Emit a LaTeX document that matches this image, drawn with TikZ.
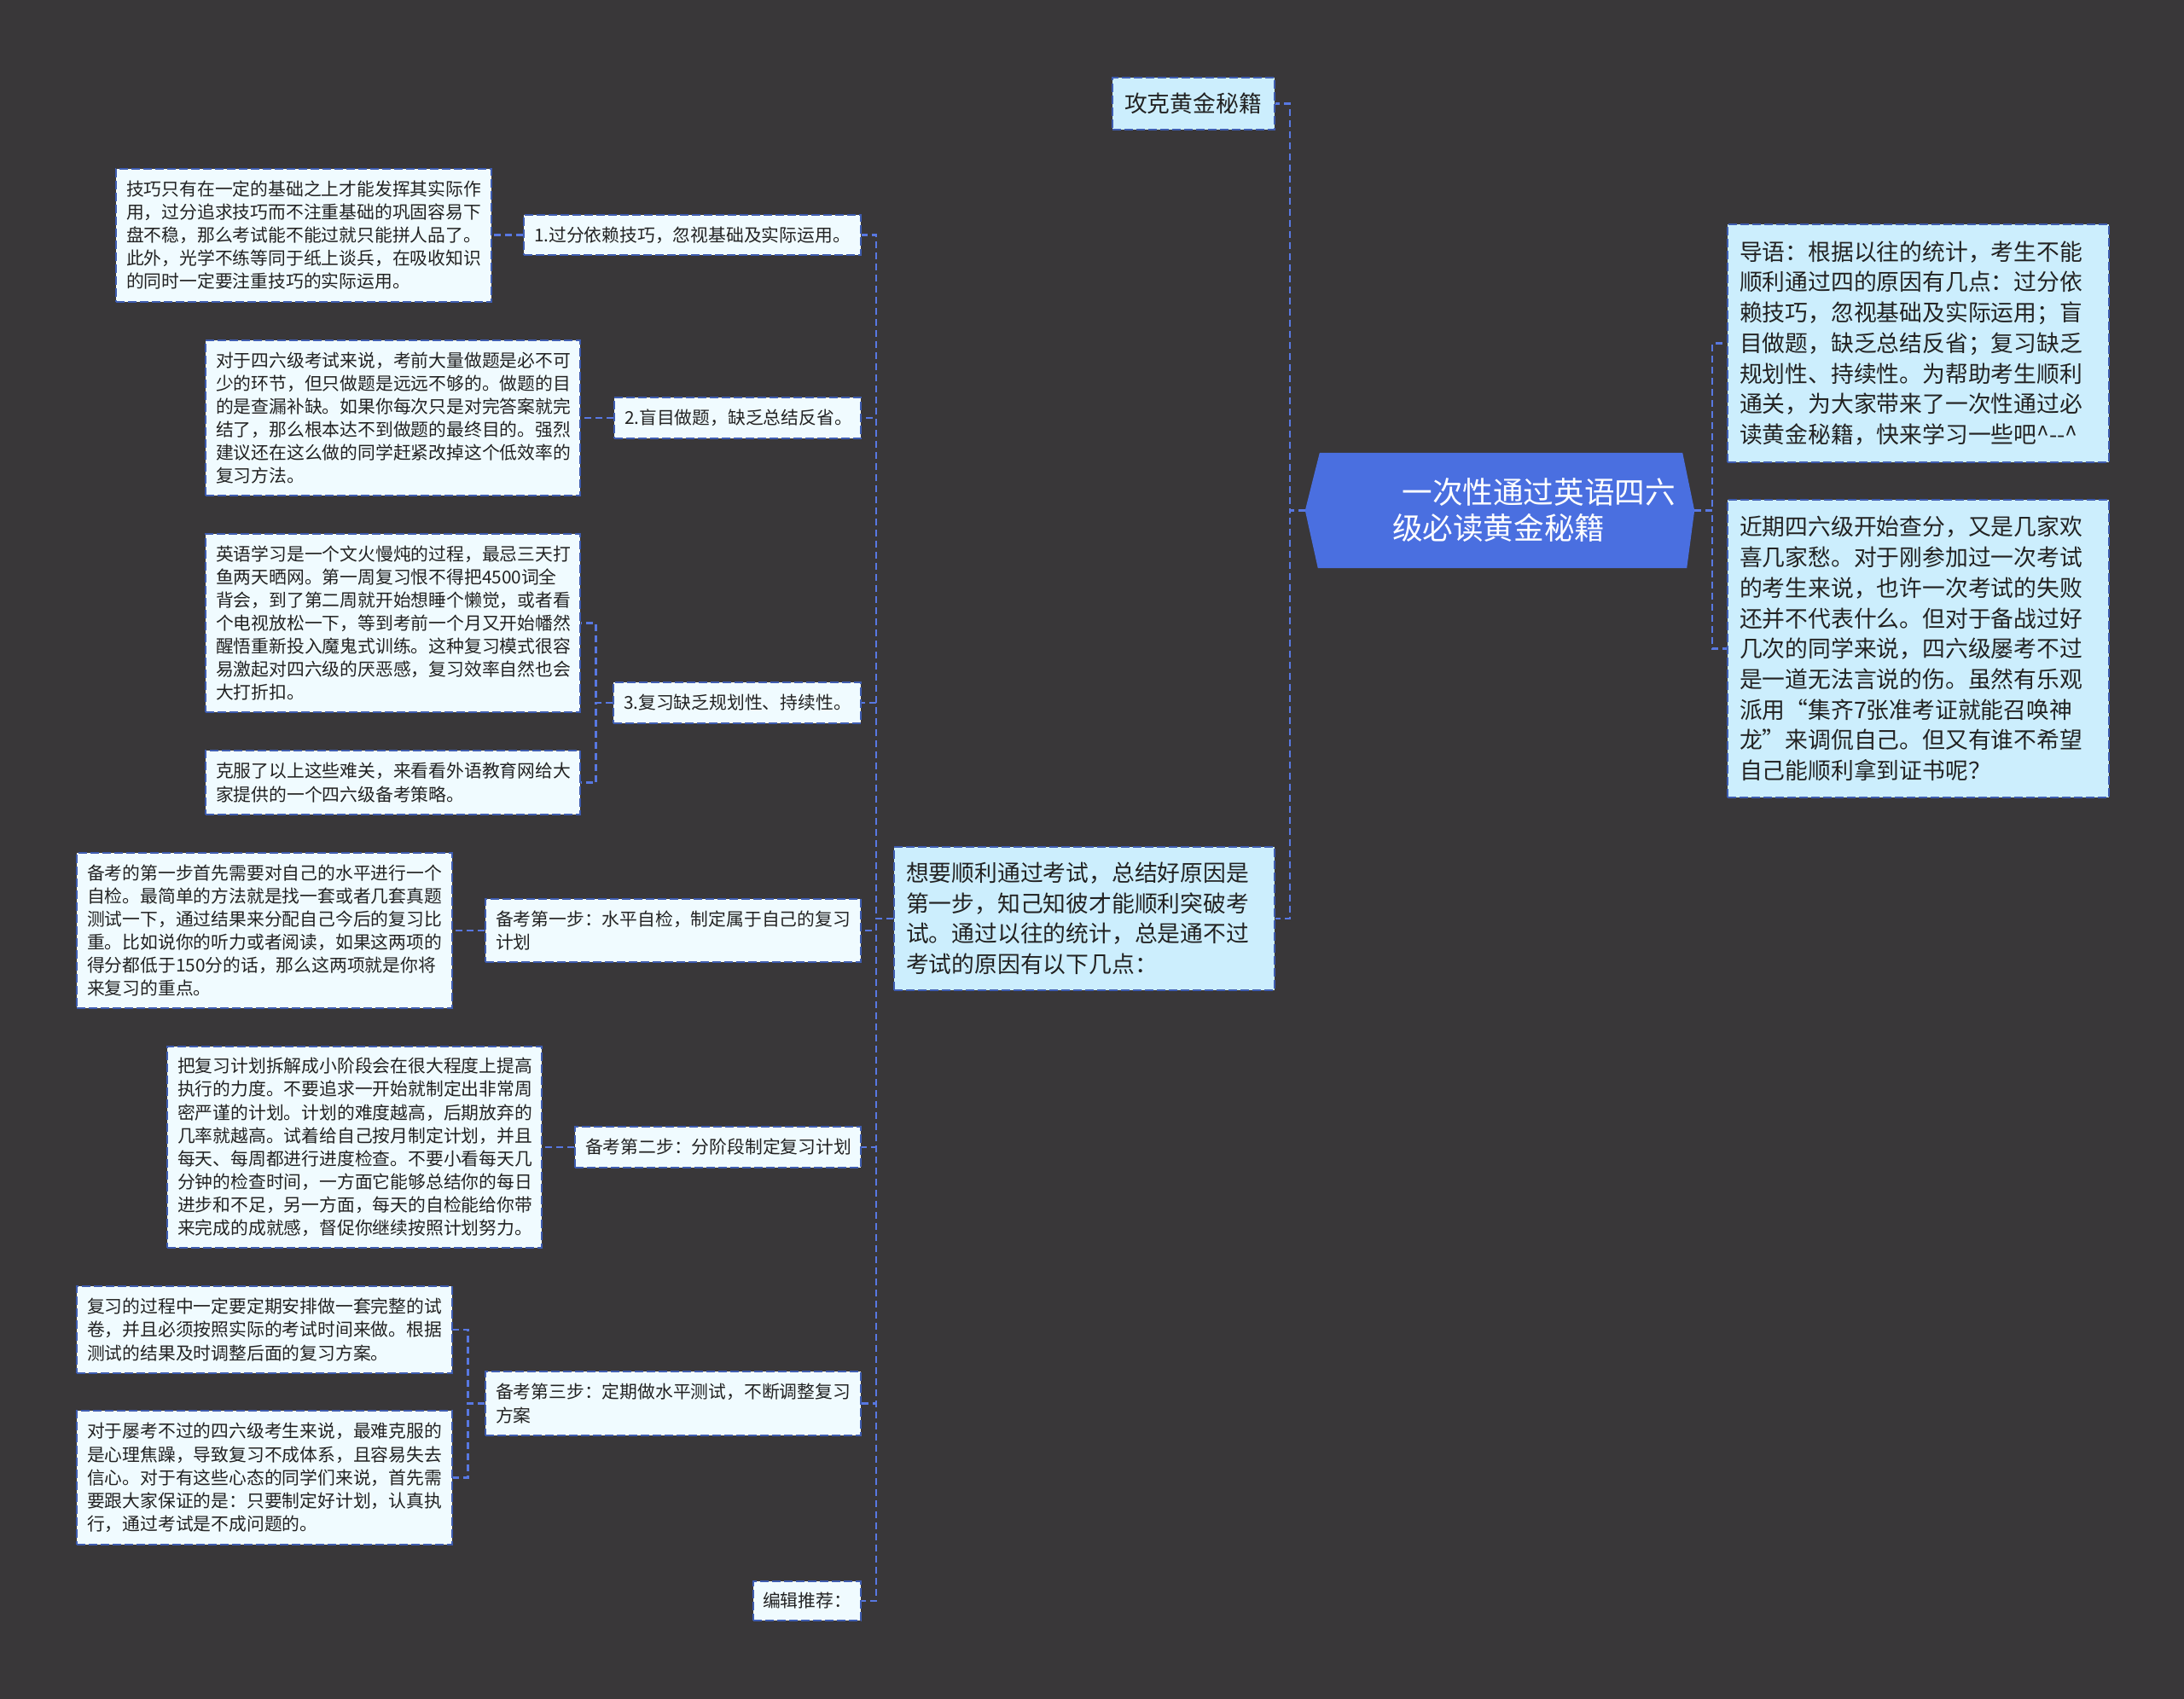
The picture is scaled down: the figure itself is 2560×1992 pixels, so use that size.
\documentclass[tikz,border=0pt]{standalone}
\usepackage{fontspec}
\setmainfont{Noto Sans CJK SC}
\usetikzlibrary{calc}
\definecolor{bgcol}{RGB}{57,55,57}
\definecolor{rootfill}{RGB}{74,111,224}
\definecolor{linecol}{RGB}{88,120,226}
\definecolor{bordercol}{RGB}{62,92,176}
\definecolor{fillone}{RGB}{204,238,253}
\definecolor{filltwo}{RGB}{240,251,255}
\definecolor{textcol}{RGB}{34,34,34}
\pgfdeclarelayer{bglayer}
\pgfsetlayers{bglayer,main}
\tikzset{
  box/.style={draw=bordercol, line width=2pt, dash pattern=on 10pt off 4pt,
    anchor=north west, inner xsep=12pt, inner ysep=0pt, align=left, text=textcol},
  lvlone/.style={box, fill=fillone, inner xsep=14pt, font=\fontsize{26.8}{35.7}\selectfont},
  lvltwo/.style={box, fill=filltwo, font=\fontsize{20.8}{27.1}\selectfont},
  rootnode/.style={minimum width=456pt, minimum height=135pt, inner sep=0pt,
    text width=420pt, align=left, text=white, font=\fontsize{35.6}{42}\selectfont},
  conn/.style={draw=linecol, line width=2.4pt, dash pattern=on 8pt off 5pt}
}
\begin{document}
\begin{tikzpicture}[x=1pt,y=-1pt]
\begin{pgfonlayer}{bglayer}
\fill[bgcol] (0,0) rectangle (2560,1992);
\end{pgfonlayer}
\useasboundingbox (0,0) rectangle (2560,1992);

% root
\node[rootnode] (root) at (1758,598.5) {\hspace*{95.5pt}一次性通过英语四六\\\hspace*{84pt}级必读黄金秘籍};
\begin{pgfonlayer}{bglayer}
\fill[rootfill] (root.west) -- ([xshift=17pt]root.north west) -- ([xshift=-14pt]root.north east)
  -- (root.east) -- ([xshift=-9pt]root.south east) -- ([xshift=15pt]root.south west) -- cycle;
\end{pgfonlayer}

% level one
\node[lvlone, minimum width=190pt, minimum height=61pt, text width=162pt] (gk) at (1303,90) {攻克黄金秘籍};
\node[lvlone, minimum width=446pt, minimum height=168pt, text width=418pt] (xy) at (1047,992) {想要顺利通过考试，总结好原因是\\第一步，知己知彼才能顺利突破考\\试。通过以往的统计，总是通不过\\考试的原因有以下几点：};
\node[lvlone, minimum width=447pt, minimum height=279pt, text width=419pt] (dy) at (2024,262) {导语：根据以往的统计，考生不能\\顺利通过四的原因有几点：过分依\\赖技巧，忽视基础及实际运用；盲\\目做题，缺乏总结反省；复习缺乏\\规划性、持续性。为帮助考生顺利\\通关，为大家带来了一次性通过必\\读黄金秘籍，快来学习一些吧\textasciicircum-{}-\textasciicircum};
\node[lvlone, minimum width=447pt, minimum height=349pt, text width=419pt] (jq) at (2024,585) {近期四六级开始查分，又是几家欢\\喜几家愁。对于刚参加过一次考试\\的考生来说，也许一次考试的失败\\还并不代表什么。但对于备战过好\\几次的同学来说，四六级屡考不过\\是一道无法言说的伤。虽然有乐观\\派用“集齐7张准考证就能召唤神\\龙”来调侃自己。但又有谁不希望\\自己能顺利拿到证书呢？};

% steps
\node[lvltwo, minimum width=395pt, minimum height=47pt, text width=371pt] (s1) at (613,251) {1.过分依赖技巧，忽视基础及实际运用。};
\node[lvltwo, minimum width=289pt, minimum height=48pt, text width=265pt] (s2) at (719,465) {2.盲目做题，缺乏总结反省。};
\node[lvltwo, minimum width=290pt, minimum height=48pt, text width=266pt] (s3) at (718,799) {3.复习缺乏规划性、持续性。};
\node[lvltwo, minimum width=440pt, minimum height=74pt, text width=416pt] (s4) at (568,1053) {备考第一步：水平自检，制定属于自己的复习\\计划};
\node[lvltwo, minimum width=335pt, minimum height=48pt, text width=311pt] (s5) at (673,1320) {备考第二步：分阶段制定复习计划};
\node[lvltwo, minimum width=440pt, minimum height=75pt, text width=416pt] (s6) at (568,1607) {备考第三步：定期做水平测试，不断调整复习\\方案};
\node[lvltwo, minimum width=126pt, minimum height=46pt, text width=104pt, inner xsep=11pt] (s7) at (882,1853) {编辑推荐：};

% details
\node[lvltwo, minimum width=440pt, minimum height=156pt, text width=416pt] (d1) at (135,196.5) {技巧只有在一定的基础之上才能发挥其实际作\\用，过分追求技巧而不注重基础的巩固容易下\\盘不稳，那么考试能不能过就只能拼人品了。\\此外，光学不练等同于纸上谈兵，在吸收知识\\的同时一定要注重技巧的实际运用。};
\node[lvltwo, minimum width=439pt, minimum height=182pt, text width=415pt] (d2) at (240,398) {对于四六级考试来说，考前大量做题是必不可\\少的环节，但只做题是远远不够的。做题的目\\的是查漏补缺。如果你每次只是对完答案就完\\结了，那么根本达不到做题的最终目的。强烈\\建议还在这么做的同学赶紧改掉这个低效率的\\复习方法。};
\node[lvltwo, minimum width=439pt, minimum height=209pt, text width=415pt] (d3a) at (240,625) {英语学习是一个文火慢炖的过程，最忌三天打\\鱼两天晒网。第一周复习恨不得把4500词全\\背会，到了第二周就开始想睡个懒觉，或者看\\个电视放松一下，等到考前一个月又开始幡然\\醒悟重新投入魔鬼式训练。这种复习模式很容\\易激起对四六级的厌恶感，复习效率自然也会\\大打折扣。};
\node[lvltwo, minimum width=439pt, minimum height=75pt, text width=415pt] (d3b) at (240,879) {克服了以上这些难关，来看看外语教育网给大\\家提供的一个四六级备考策略。};
\node[lvltwo, minimum width=440pt, minimum height=182pt, text width=416pt] (d4) at (89,999) {备考的第一步首先需要对自己的水平进行一个\\自检。最简单的方法就是找一套或者几套真题\\测试一下，通过结果来分配自己今后的复习比\\重。比如说你的听力或者阅读，如果这两项的\\得分都低于150分的话，那么这两项就是你将\\来复习的重点。};
\node[lvltwo, minimum width=439pt, minimum height=236pt, text width=415pt] (d5) at (195,1226) {把复习计划拆解成小阶段会在很大程度上提高\\执行的力度。不要追求一开始就制定出非常周\\密严谨的计划。计划的难度越高，后期放弃的\\几率就越高。试着给自己按月制定计划，并且\\每天、每周都进行进度检查。不要小看每天几\\分钟的检查时间，一方面它能够总结你的每日\\进步和不足，另一方面，每天的自检能给你带\\来完成的成就感，督促你继续按照计划努力。};
\node[lvltwo, minimum width=440pt, minimum height=102pt, text width=416pt] (d6a) at (89,1507) {复习的过程中一定要定期安排做一套完整的试\\卷，并且必须按照实际的考试时间来做。根据\\测试的结果及时调整后面的复习方案。};
\node[lvltwo, minimum width=440pt, minimum height=157pt, text width=416pt] (d6b) at (89,1653) {对于屡考不过的四六级考生来说，最难克服的\\是心理焦躁，导致复习不成体系，且容易失去\\信心。对于有这些心态的同学们来说，首先需\\要跟大家保证的是：只要制定好计划，认真执\\行，通过考试是不成问题的。};

% connectors
\draw[conn] (root.west) -- ++(-18,0) |- (gk.east);
\draw[conn] (root.west) -- ++(-18,0) |- (xy.east);
\draw[conn] (root.east) -- ++(21,0) |- (dy.west);
\draw[conn] (root.east) -- ++(21,0) |- (jq.west);
\draw[conn] (xy.west) -- ++(-20,0) |- (s1.east);
\draw[conn] (xy.west) -- ++(-20,0) |- (s2.east);
\draw[conn] (xy.west) -- ++(-20,0) |- (s3.east);
\draw[conn] (xy.west) -- ++(-20,0) |- (s4.east);
\draw[conn] (xy.west) -- ++(-20,0) |- (s5.east);
\draw[conn] (xy.west) -- ++(-20,0) |- (s6.east);
\draw[conn] (xy.west) -- ++(-20,0) |- (s7.east);
\draw[conn] (s1.west) -- (d1.east);
\draw[conn] (s2.west) -- (d2.east);
\draw[conn] (s3.west) -- ++(-19.5,0) |- (d3a.east);
\draw[conn] (s3.west) -- ++(-19.5,0) |- (d3b.east);
\draw[conn] (s4.west) -- (d4.east);
\draw[conn] (s5.west) -- (d5.east);
\draw[conn] (s6.west) -- ++(-19.5,0) |- (d6a.east);
\draw[conn] (s6.west) -- ++(-19.5,0) |- (d6b.east);
\end{tikzpicture}
\end{document}
